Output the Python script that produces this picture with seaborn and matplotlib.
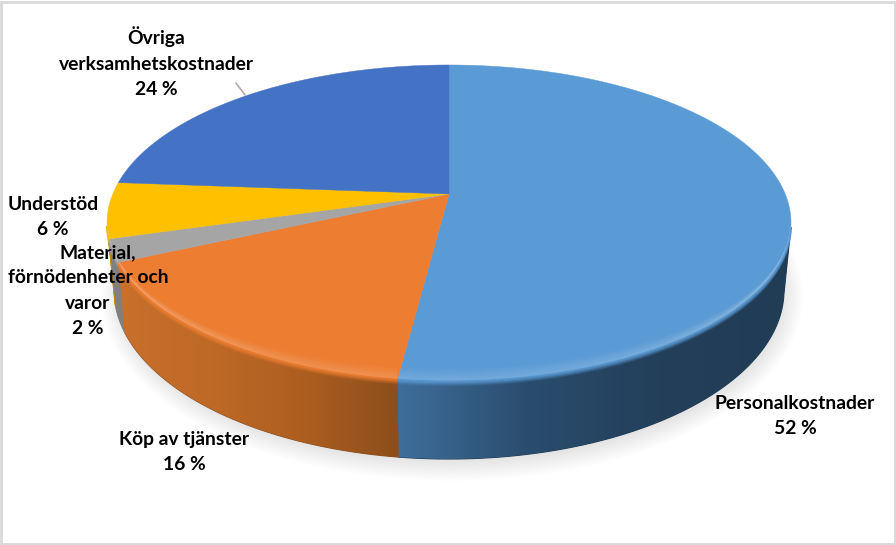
import numpy as np
import seaborn as sns
import matplotlib.pyplot as plt
from matplotlib.colors import LinearSegmentedColormap, to_rgb
from matplotlib.patches import Ellipse, Polygon, Rectangle

# data, clockwise from 12 o'clock
kategorier = ["Personalkostnader", "Köp av tjänster", "Material,\nförnödenheter och\nvaror", "Understöd", "Övriga\nverksamhetskostnader"]
varden = [52.0, 16.2, 2.3, 5.7, 23.8]
farger = ["#5B9BD5", "#ED7D31", "#A5A5A5", "#FFC000", "#4472C4"]

# side wall colours from left to right
vagg_farger = [
    ["#3F6E9B", "#2A4D6E", "#233F5A", "#213C55"],
    ["#C8702C", "#BF6926", "#AC5E20", "#8C4E1C"],
    ["#808080", "#808080"],
    ["#BF9000", "#BF9000"],
    ["#33558F", "#33558F"],
]

# where the labels sit, in pixels (centre of the text block)
etikett_x = [795, 184, 88, 53, 156]
etikett_y = [415.5, 451.5, 290, 216.5, 63.5]
radavstand = 25.4

# pie geometry in pixels, top face is a circle seen in perspective
mitt_x, mitt_y = 449, 194
A, B, K = 336.2, 152.7, 0.1835
botten_y, botten_a, botten_b = 290, 335, 169


def kant(theta):
    t = np.radians(theta)
    w = 1 + K * np.sin(t)
    return mitt_x + A * np.cos(t) / w, mitt_y - B * np.sin(t) / w


def botten(x):
    # point on the lower edge under a rim point
    bx = mitt_x + (x - mitt_x) * botten_a / 342
    d = np.clip((bx - mitt_x) / botten_a, -1, 1)
    return bx, botten_y + botten_b * np.sqrt(1 - d ** 2)


sns.set_theme(style="white")
plt.rcParams["font.family"] = ["Lato", "DejaVu Sans"]

fig, ax = plt.subplots(figsize=(8.96, 5.45), dpi=100)
ax.set_position([0, 0, 1, 1])

# let pie turn the values into angles, then redraw them in perspective
wedges, _ = ax.pie(varden, startangle=90, counterclock=False, colors=farger)
vinklar = [(w.theta1, w.theta2) for w in wedges]
for w in wedges:
    w.remove()

# soft shadow
for i in range(14):
    ax.add_patch(Ellipse((mitt_x + 3, botten_y + 6), 2 * (botten_a + 16 - i * 1.6), 2 * (botten_b + 16 - i * 1.6),
                         color="#000000", alpha=0.009, lw=0, zorder=1))

for (t1, t2), farg, vagg in zip(vinklar, farger, vagg_farger):
    th = np.linspace(t1, t2, 300)
    x, y = kant(th)

    # side wall, only the part below the widest line of the top face
    fram = y >= 226
    if fram.any():
        xf, yf = x[fram], y[fram]
        bx, by = botten(xf)
        hoirn = np.vstack([np.column_stack([xf, yf]), np.column_stack([bx, by])[::-1]])
        # plain layer under the gradient so no seam shows between the slices
        ax.add_patch(Polygon(hoirn, closed=True, fc=vagg[-1], ec=vagg[-1], lw=0.8, zorder=1.5))
        poly = Polygon(hoirn, closed=True, fc="none", ec="none", transform=ax.transData)
        ax.add_patch(poly)
        cmap = LinearSegmentedColormap.from_list("vagg", vagg)
        bild = ax.imshow(np.linspace(0, 1, 256).reshape(1, -1), cmap=cmap, aspect="auto", zorder=2,
                         extent=(min(xf.min(), bx.min()), max(xf.max(), bx.max()), 470, 200))
        bild.set_clip_path(poly)

    # top face
    topp = Polygon(np.vstack([[mitt_x, mitt_y], np.column_stack([x, y])]), closed=True, fc=farg, ec=farg, lw=0.3, zorder=3)
    ax.add_patch(topp)

    # bevel, a light band just inside the front edge and a blur over the edge
    if fram.any():
        ljus = 0.55 * np.array(to_rgb(farg)) + 0.45
        for d in np.arange(1, 13):
            skala = np.clip((y[fram] - 223) / 158, 0, 1)
            rad, = ax.plot(xf, yf - d * skala, color=ljus, lw=1.3, alpha=0.22 * (1 - d / 13), zorder=4,
                           solid_capstyle="butt")
            rad.set_clip_path(topp)
        for d, al in zip([0.5, 1.5, 2.5, 3.5, 4.5], [0.8, 0.6, 0.4, 0.25, 0.1]):
            ax.plot(xf, yf + d, color=farg, lw=1.2, alpha=al, zorder=4, solid_capstyle="butt")

# labels with percent from the values, line by line since "Material," sits off centre
for namn, v, lx, ly in zip(kategorier, varden, etikett_x, etikett_y):
    rader = f"{namn}\n{v:.0f} %".split("\n")
    for nr, text in enumerate(rader):
        forskj = 10 if text == "Material," else 0
        ax.text(lx + forskj, ly + (nr - (len(rader) - 1) / 2) * radavstand + 6, text, ha="center", va="baseline",
                fontsize=13.9, fontweight="bold", color="black", zorder=6)

# leader line for the top left label
ax.plot([236, 245], [83, 95], color="#B4A8AC", lw=1.2, zorder=5)

ax.set_aspect("auto")
ax.set_xlim(0, 896)
ax.set_ylim(545, 0)
ax.axis("off")

# chart frame
fig.add_artist(Rectangle((1 / 896, 1.5 / 545), 893.5 / 896, 542 / 545, transform=fig.transFigure,
                         fc="none", ec="#D9D9D9", lw=2))

fig.savefig("out.png", dpi=100, facecolor="white")
